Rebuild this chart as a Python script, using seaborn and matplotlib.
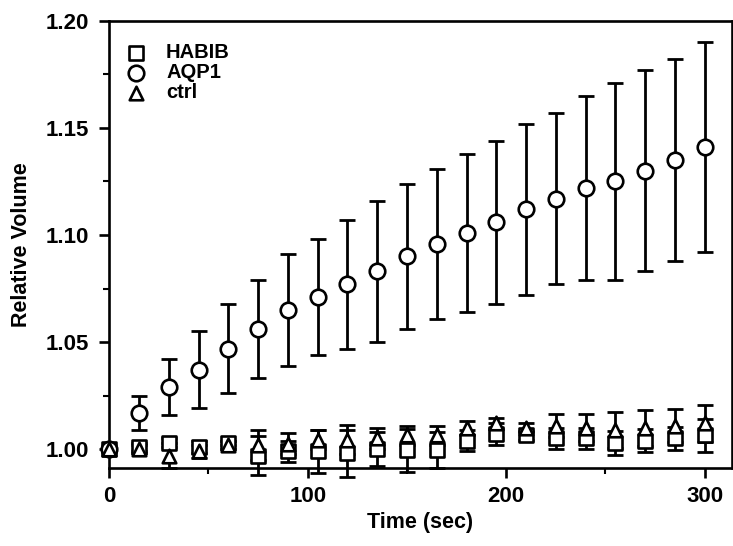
import numpy as np
import pandas as pd
import matplotlib
matplotlib.use("Agg")
import matplotlib.pyplot as plt
import seaborn as sns
from matplotlib.ticker import MultipleLocator

# ── Data ──────────────────────────────────────────────────
time = [0, 15, 30, 45, 60, 75, 90, 105, 120, 135, 150,
        165, 180, 195, 210, 225, 240, 255, 270, 285, 300]

aqp1     = [1.000, 1.017, 1.029, 1.037, 1.047, 1.056, 1.065, 1.071, 1.077, 1.083, 1.090,
            1.096, 1.101, 1.106, 1.112, 1.117, 1.122, 1.125, 1.130, 1.135, 1.141]
aqp1_err = [0.000, 0.008, 0.013, 0.018, 0.021, 0.023, 0.026, 0.027, 0.030, 0.033, 0.034,
            0.035, 0.037, 0.038, 0.040, 0.040, 0.043, 0.046, 0.047, 0.047, 0.049]

habib     = [1.000, 1.001, 1.003, 1.001, 1.003, 0.997, 0.999, 0.999, 0.998, 1.000, 0.9995,
             0.9995, 1.004, 1.007, 1.0065, 1.005, 1.005, 1.003, 1.004, 1.005, 1.0065]
habib_err = [0.000, 0.002, 0.002, 0.003, 0.001, 0.009, 0.005, 0.010, 0.011, 0.008, 0.010,
             0.0085, 0.005, 0.005, 0.002, 0.005, 0.005, 0.0056, 0.0054, 0.0055, 0.0077]

ctrl     = [1.000, 1.000, 0.997, 0.999, 1.002, 1.002, 1.0026, 1.0045, 1.0045, 1.005, 1.0065,
            1.0065, 1.0097, 1.012, 1.010, 1.011, 1.010, 1.009, 1.010, 1.011, 1.012]
ctrl_err = [0.000, 0.002, 0.006, 0.003, 0.002, 0.007, 0.005, 0.0044, 0.0067, 0.0047, 0.0045,
            0.0045, 0.0033, 0.0025, 0.002, 0.0055, 0.0063, 0.0085, 0.0084, 0.0078, 0.0086]

groups  = ["HABIB", "AQP1", "ctrl"]
markers = {"HABIB": "s", "AQP1": "o", "ctrl": "^"}
msize   = {"HABIB": 90, "AQP1": 125, "ctrl": 95}

df = pd.concat([
    pd.DataFrame({"time": time, "vol": habib, "err": habib_err, "group": "HABIB"}),
    pd.DataFrame({"time": time, "vol": aqp1,  "err": aqp1_err,  "group": "AQP1"}),
    pd.DataFrame({"time": time, "vol": ctrl,  "err": ctrl_err,  "group": "ctrl"}),
], ignore_index=True)

# ── Style ────────────────────────────────────────────────
sns.set_style("ticks", {"axes.edgecolor": "black", "text.color": "black",
                        "axes.labelcolor": "black", "xtick.color": "black",
                        "ytick.color": "black"})
plt.rcParams["font.family"] = ["Liberation Sans", "DejaVu Sans"]
plt.rcParams["font.weight"] = "bold"
plt.rcParams["axes.labelweight"] = "bold"

fig = plt.figure(figsize=(7.33, 5.46), dpi=100)
ax = fig.add_axes([0.149, 0.142, 0.849, 0.820])

# error bars first, then open markers on top
for g in groups:
    d = df[df["group"] == g]
    eb = ax.errorbar(d["time"], d["vol"], yerr=d["err"], fmt="none", ecolor="black",
                     elinewidth=2.0, capsize=6, capthick=2.0, zorder=2)
    for art in list(eb.lines[1]) + list(eb.lines[2]):
        art.set_clip_on(False)

for g in groups:
    d = df[df["group"] == g]
    sns.scatterplot(data=d, x="time", y="vol", ax=ax, marker=markers[g], s=msize[g],
                    color="white", edgecolor="black", linewidth=1.9, label=g,
                    zorder=3, clip_on=False)

ax.set_xlim(0, 313.5)
ax.set_ylim(0.991, 1.2)
ax.xaxis.set_major_locator(MultipleLocator(100))
ax.xaxis.set_minor_locator(MultipleLocator(50))
ax.yaxis.set_major_locator(MultipleLocator(0.05))
ax.yaxis.set_minor_locator(MultipleLocator(0.025))
ax.yaxis.set_major_formatter(matplotlib.ticker.FormatStrFormatter("%.2f"))

for sp in ax.spines.values():
    sp.set_linewidth(1.9)
    sp.set_color("black")
    sp.set_visible(True)
ax.tick_params(which="major", length=7.5, width=1.9, labelsize=16, pad=5, colors="black")
ax.tick_params(axis="y", which="major", pad=7)
ax.tick_params(which="minor", length=4.5, width=1.5, colors="black")
for lab in ax.get_xticklabels() + ax.get_yticklabels():
    lab.set_fontweight("bold")

ax.set_xlabel("Time (sec)", fontsize=15.5, fontweight="bold", labelpad=4, color="black")
ax.set_ylabel("Relative Volume", fontsize=15.5, fontweight="bold", labelpad=10, color="black")

leg = ax.legend(loc="upper left", bbox_to_anchor=(-0.022, 0.995), frameon=False,
                fontsize=14.5, handletextpad=0.5, labelspacing=0.05,
                borderaxespad=0.6)
for t in leg.get_texts():
    t.set_fontweight("bold")
    t.set_color("black")

fig.savefig("out.png", dpi=100)
